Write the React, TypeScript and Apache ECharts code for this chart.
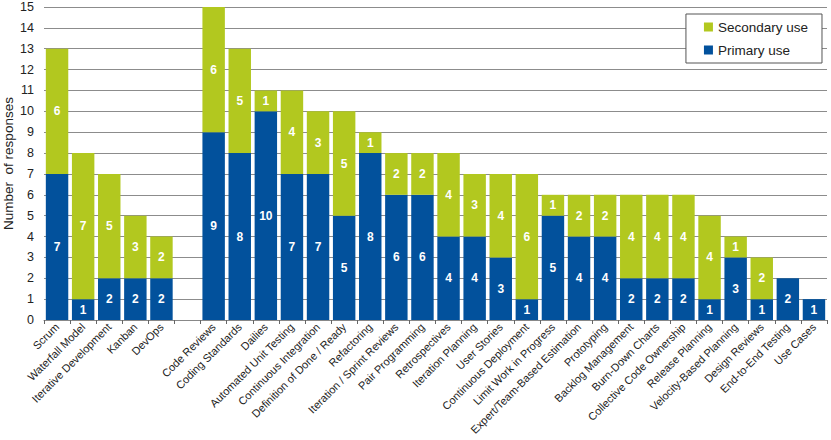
import React, { useEffect, useRef } from "react";
import * as echarts from "echarts";

const categories = [
  "Scrum", "Waterfall Model", "Iterative Development", "Kanban", "DevOps", "",
  "Code Reviews", "Coding Standards", "Dailies", "Automated Unit Testing",
  "Continuous Integration", "Definition of Done / Ready", "Refactoring",
  "Iteration / Sprint Reviews", "Pair Programming", "Retrospectives",
  "Iteration Planning", "User Stories", "Continuous Deployment",
  "Limit Work in Progress", "Expert/Team-Based Estimation", "Prototyping",
  "Backlog Management", "Burn-Down Charts", "Collective Code Ownership",
  "Release Planning", "Velocity-Based Planning", "Design Reviews",
  "End-to-End Testing", "Use Cases",
];

const primaryUse = [7, 1, 2, 2, 2, null, 9, 8, 10, 7, 7, 5, 8, 6, 6, 4, 4, 3, 1, 5, 4, 4, 2, 2, 2, 1, 3, 1, 2, 1];
const secondaryUse = [6, 7, 5, 3, 2, null, 6, 5, 1, 4, 3, 5, 1, 2, 2, 4, 3, 4, 6, 1, 2, 2, 4, 4, 4, 4, 1, 2, 0, 0];

const yTicks = { min: 0, max: 15, interval: 1 };

const BLUE = "#02519c";
const GREEN = "#b2c81f";
const FONT = "Liberation Sans, Arial, sans-serif";

export default function App() {
  const ref = useRef<HTMLDivElement>(null);
  useEffect(() => {
    const chart = echarts.init(ref.current!, undefined, { renderer: "svg" });
    const label = {
      show: true,
      position: "inside" as const,
      color: "#fff",
      fontWeight: "bold" as const,
      fontSize: 12,
      fontFamily: FONT,
      formatter: (p: any) => (p.value ? String(p.value) : ""),
    };
    chart.setOption({
      animation: false,
      grid: { left: 44, right: 4, top: 7, bottom: 120, containLabel: false, outerBoundsMode: "none" },
      legend: {
        orient: "vertical",
        right: 9,
        top: 14,
        data: ["Secondary use", "Primary use"],
        backgroundColor: "#fff",
        borderColor: "#555",
        borderWidth: 1,
        borderRadius: 0,
        padding: [6, 14, 6, 18],
        itemGap: 9,
        itemWidth: 9,
        itemHeight: 9,
        icon: "rect",
        textStyle: { fontFamily: FONT, fontSize: 13.5, color: "#222" },
      },
      xAxis: {
        type: "category",
        data: categories,
        axisLine: { lineStyle: { color: "#888" } },
        axisTick: { show: true, alignWithLabel: false, interval: 0, length: 4, lineStyle: { color: "#666" } },
        axisLabel: {
          interval: 0,
          rotate: 45,
          fontFamily: FONT,
          fontSize: 11,
          color: "#222",
          margin: 5,
        },
      },
      yAxis: {
        type: "value",
        min: yTicks.min,
        max: yTicks.max,
        interval: yTicks.interval,
        name: "Number  of responses",
        nameLocation: "middle",
        nameGap: 29,
        nameMoveOverlap: false,
        nameTextStyle: { fontFamily: FONT, fontSize: 13.5, color: "#222" },
        axisLine: { show: false },
        axisTick: { show: false },
        axisLabel: { fontFamily: FONT, fontSize: 12.5, color: "#222", margin: 10 },
        splitLine: { lineStyle: { color: "#8c8c8c", width: 1 } },
      },
      series: [
        {
          name: "Primary use",
          type: "bar",
          stack: "total",
          data: primaryUse,
          barCategoryGap: "14%",
          itemStyle: { color: BLUE },
          label,
        },
        {
          name: "Secondary use",
          type: "bar",
          stack: "total",
          data: secondaryUse,
          barCategoryGap: "14%",
          itemStyle: { color: GREEN },
          label,
        },
      ],
    });
    return () => chart.dispose();
  }, []);
  return (
    <div
      ref={ref}
      style={{ position: "absolute", left: 0, top: 0, width: 831, height: 440 }}
    />
  );
}
